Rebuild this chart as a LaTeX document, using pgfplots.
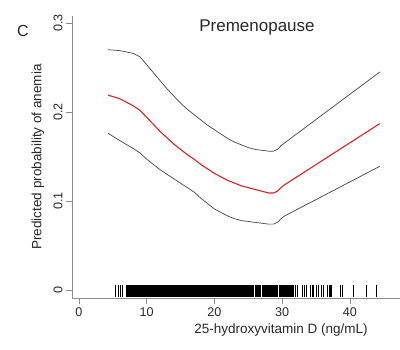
\documentclass[border=0pt]{standalone}
\usepackage{pgfplots}
\pgfplotsset{compat=1.18}
\usepackage{fontspec}
\setmainfont{Liberation Sans}
\definecolor{cred}{RGB}{222,32,32}
\definecolor{cline}{RGB}{70,70,70}
\definecolor{caxis}{RGB}{140,140,140}
\definecolor{ctext}{RGB}{40,40,40}
\begin{document}
\begin{tikzpicture}[x=1pt,y=1pt]
\begin{axis}[
  at={(72pt,51pt)}, anchor=south west,
  scale only axis, width=328pt, height=282pt,
  xmin=-1.03, xmax=47.38, ymin=-0.009, ymax=0.3079,
  axis x line*=bottom, axis y line*=left,
  axis line style={caxis, line width=0.8pt, -},
  tick style={caxis, line width=0.8pt},
  tick align=outside, major tick length=6pt,
  xtick={0,10,20,30,40},
  ytick={0,0.1,0.2,0.3},
  yticklabels={0,0.1,0.2,0.3},
  /pgf/number format/assume math mode=true,
  tick label style={font=\fontsize{12.6}{14}\selectfont, text=ctext},
  yticklabel style={rotate=90, anchor=south},
  xlabel={25-hydroxyvitamin D (ng/mL)},
  ylabel={Predicted probability of anemia},
  label style={font=\fontsize{13.5}{15}\selectfont, text=ctext},
  xlabel style={at={(axis description cs:0.637,-0.113)}, anchor=center},
  ylabel style={at={(axis description cs:-0.104,0.5)}, anchor=center},
  title={Premenopause},
  title style={at={(axis description cs:0.564,0.94)}, anchor=center, font=\fontsize{17}{20}\selectfont, text=ctext},
  clip=false,
]
% upper confidence bound
\addplot[cline, line width=0.7pt] coordinates {
(4.3,0.270) (6,0.269) (8,0.266) (9,0.262) (10,0.253) (11,0.244) (12,0.235) (13,0.226) (14,0.218) (15,0.210) (16,0.203) (17,0.197) (18,0.191) (19,0.185) (20,0.180) (21,0.175) (22,0.170) (23,0.166) (24,0.163) (25,0.160) (26,0.158) (27,0.157) (28,0.156) (28.7,0.156) (29.3,0.158) (29.8,0.162) (30.3,0.165) (44.4,0.245)
};
% fitted
\addplot[cred, line width=1.1pt] coordinates {
(4.3,0.219) (6,0.215) (8,0.207) (9,0.202) (10,0.194) (11,0.186) (12,0.178) (13,0.171) (14,0.164) (15,0.158) (16,0.152) (17,0.147) (18,0.141) (19,0.136) (20,0.131) (21,0.127) (22,0.123) (23,0.120) (24,0.117) (25,0.115) (26,0.113) (27,0.111) (28,0.109) (28.7,0.109) (29.3,0.111) (29.8,0.115) (30.3,0.118) (44.4,0.187)
};
% lower confidence bound
\addplot[cline, line width=0.7pt] coordinates {
(4.3,0.176) (6,0.168) (8,0.159) (9,0.154) (10,0.147) (11,0.141) (12,0.135) (13,0.130) (14,0.125) (15,0.120) (16,0.115) (17,0.110) (18,0.103) (19,0.097) (20,0.091) (21,0.087) (22,0.083) (23,0.080) (24,0.078) (25,0.077) (26,0.076) (27,0.075) (28,0.074) (28.7,0.074) (29.3,0.076) (29.8,0.080) (30.3,0.083) (44.4,0.139)
};
% rug: dense block
\addplot[fill=black, draw=none] coordinates {(6.9,-0.0078) (25.2,-0.0078) (25.2,0.0056) (6.9,0.0056)};
% rug: individual ticks
\addplot[black, only marks, mark=|, mark size=6pt, mark options={line width=0.7pt}] coordinates {
(5.3,-0.0011) (5.8,-0.0011) (6.1,-0.0011) (6.4,-0.0011)
(25.35,-0.0011) (25.5,-0.0011) (25.65,-0.0011) (25.8,-0.0011) (26.0,-0.0011) (26.15,-0.0011) (26.3,-0.0011) (26.5,-0.0011) (26.65,-0.0011) (26.8,-0.0011) (27.0,-0.0011) (27.15,-0.0011) (27.3,-0.0011) (27.5,-0.0011) (27.7,-0.0011) (27.85,-0.0011) (28.0,-0.0011) (28.15,-0.0011) (28.3,-0.0011) (28.45,-0.0011) (28.6,-0.0011) (28.75,-0.0011) (28.9,-0.0011) (29.05,-0.0011) (29.2,-0.0011) (29.35,-0.0011) (29.5,-0.0011) (29.65,-0.0011) (29.8,-0.0011) (29.95,-0.0011) (30.1,-0.0011) (30.25,-0.0011) (30.4,-0.0011) (30.55,-0.0011) (30.7,-0.0011) (30.85,-0.0011) (31.0,-0.0011) (31.15,-0.0011) (31.3,-0.0011) (31.5,-0.0011) (31.7,-0.0011) (32.0,-0.0011) (32.3,-0.0011)
(32.9,-0.0011) (33.2,-0.0011) (33.5,-0.0011) (34.2,-0.0011) (34.5,-0.0011) (34.65,-0.0011) (34.97,-0.0011) (35.3,-0.0011) (35.7,-0.0011) (36.0,-0.0011) (36.6,-0.0011) (36.9,-0.0011) (37.05,-0.0011) (37.3,-0.0011) (38.6,-0.0011) (38.9,-0.0011) (40.5,-0.0011) (42.4,-0.0011) (43.9,-0.0011)
};
\node[font=\fontsize{16}{19}\selectfont, text=ctext] at (axis description cs:-0.15,0.947) {C};
\end{axis}
\pgfresetboundingbox
\path[use as bounding box] (0,0) rectangle (400,349);
\end{tikzpicture}
\end{document}
